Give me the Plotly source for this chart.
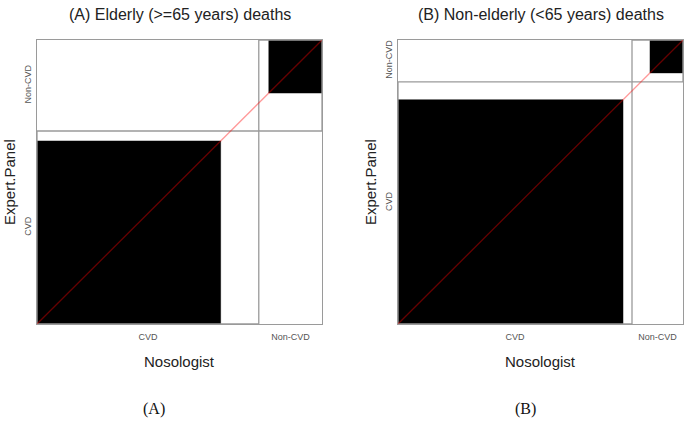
import plotly.graph_objects as go

# ---------------- data ----------------
categories = ["CVD", "Non-CVD"]
# rows = Expert.Panel, columns = Nosologist (estimated counts)
elderly_counts = [[183, 10],
                  [38, 53]]
nonelderly_counts = [[225, 18],
                     [9, 33]]
panel_titles = ["(A) Elderly (>=65 years) deaths",
                "(B) Non-elderly (<65 years) deaths"]
captions = ["(A)", "(B)"]
x_title = "Nosologist"
y_title = "Expert.Panel"

# ---------------- layout helpers ----------------
W, H = 685, 421
boxes = [(37, 322, 40, 324), (398, 683, 40, 324)]  # left, right, top, bottom (page px)
GREY = "#9a9a9a"


def px_x(p):
    return p / W


def px_y(p):
    return 1 - p / H


fig = go.Figure()
annotations = []
layout_axes = {}

for k, (tab, box) in enumerate(zip([elderly_counts, nonelderly_counts], boxes)):
    xa = "x" if k == 0 else "x2"
    ya = "y" if k == 0 else "y2"
    n = len(categories)
    rows = [sum(r) for r in tab]
    cols = [sum(tab[r][c] for r in range(n)) for c in range(n)]
    N = sum(rows)
    xc = [0]
    yc = [0]
    for i in range(n):
        xc.append(xc[-1] + cols[i])
        yc.append(yc[-1] + rows[i])

    # exact agreement squares
    for i in range(n):
        x0 = xc[i] + sum(tab[j][i] for j in range(i))
        y0 = yc[i] + sum(tab[i][j] for j in range(i))
        s = tab[i][i]
        fig.add_trace(go.Scatter(
            x=[x0, x0 + s, x0 + s, x0, x0], y=[y0, y0, y0 + s, y0 + s, y0],
            mode="lines", fill="toself", fillcolor="black",
            line=dict(color="black", width=0.5), xaxis=xa, yaxis=ya,
            hoverinfo="skip", showlegend=False))

    # marginal rectangles
    for i in range(n):
        fig.add_trace(go.Scatter(
            x=[xc[i], xc[i + 1], xc[i + 1], xc[i], xc[i]],
            y=[yc[i], yc[i], yc[i + 1], yc[i + 1], yc[i]],
            mode="lines", line=dict(color=GREY, width=1.3),
            xaxis=xa, yaxis=ya, hoverinfo="skip", showlegend=False))

    # diagonal reference line
    fig.add_trace(go.Scatter(
        x=[0, N], y=[0, N], mode="lines",
        line=dict(color="rgba(255,0,0,0.4)", width=1.3),
        xaxis=xa, yaxis=ya, hoverinfo="skip", showlegend=False))

    left, right, top, bottom = box
    xkey = "xaxis" if k == 0 else "xaxis2"
    ykey = "yaxis" if k == 0 else "yaxis2"
    layout_axes[xkey] = dict(
        domain=[px_x(left), px_x(right)], range=[0, N], anchor=ya,
        showgrid=False, zeroline=False, showline=True, mirror=True,
        linecolor=GREY, linewidth=1.3,
        tickvals=[(xc[i] + xc[i + 1]) / 2 for i in range(n)],
        ticktext=categories, ticks="outside", ticklen=4,
        tickcolor="rgba(0,0,0,0)",
        tickfont=dict(family="Liberation Sans, Arial", size=9, color="#555555"))
    layout_axes[ykey] = dict(
        domain=[px_y(bottom), px_y(top)], range=[0, N], anchor=xa,
        showgrid=False, zeroline=False, showline=True, mirror=True,
        linecolor=GREY, linewidth=1.3,
        tickvals=[(yc[i] + yc[i + 1]) / 2 for i in range(n)],
        ticktext=categories, ticks="outside", ticklen=1, tickangle=-90,
        tickcolor="rgba(0,0,0,0)",
        tickfont=dict(family="Liberation Sans, Arial", size=9, color="#555555"))

    cx = (left + right) / 2
    cy = (top + bottom) / 2
    annotations.append(dict(
        text=panel_titles[k], x=px_x(cx), y=px_y(14), xref="paper", yref="paper",
        showarrow=False, xanchor="center", yanchor="middle",
        font=dict(family="Liberation Sans, Arial", size=16, color="#222222")))
    annotations.append(dict(
        text=x_title, x=px_x(cx), y=px_y(361), xref="paper", yref="paper",
        showarrow=False, xanchor="center", yanchor="middle",
        font=dict(family="Liberation Sans, Arial", size=15, color="#222222")))
    annotations.append(dict(
        text=y_title, x=px_x(left - 28), y=px_y(cy), xref="paper", yref="paper",
        showarrow=False, xanchor="center", yanchor="middle", textangle=-90,
        font=dict(family="Liberation Sans, Arial", size=15, color="#222222")))
    annotations.append(dict(
        text=captions[k], x=px_x([154, 525][k]), y=px_y(409), xref="paper", yref="paper",
        showarrow=False, xanchor="center", yanchor="middle",
        font=dict(family="Liberation Serif, Times New Roman", size=16, color="#111111")))

fig.update_layout(
    width=W, height=H, margin=dict(l=0, r=0, t=0, b=0),
    paper_bgcolor="white", plot_bgcolor="white",
    annotations=annotations, showlegend=False, **layout_axes)

# remove the page's default body margin so the figure fills the window exactly
fig.write_html("out.html",
               config={"displayModeBar": False, "staticPlot": True},
               post_script="document.body.style.margin='0';document.body.style.overflow='hidden';")
